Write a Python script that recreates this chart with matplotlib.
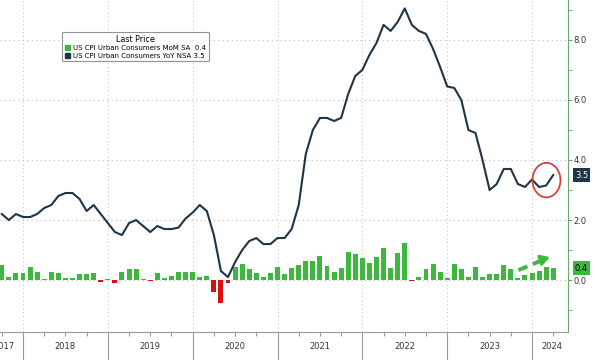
import matplotlib
matplotlib.use("Agg")
import matplotlib.pyplot as plt
import numpy as np
import pandas as pd
from matplotlib.patches import Patch, Ellipse

# monthly data, Sep 2017 .. Mar 2024
start, end = "2017-09", "2024-03"

yoy = [2.2, 2.0, 2.2, 2.1,
       2.1, 2.2, 2.4, 2.5, 2.8, 2.9, 2.9, 2.7, 2.3, 2.5, 2.2, 1.9,
       1.6, 1.5, 1.9, 2.0, 1.8, 1.6, 1.8, 1.7, 1.7, 1.75, 2.05, 2.25,
       2.5, 2.3, 1.5, 0.3, 0.1, 0.6, 1.0, 1.3, 1.4, 1.2, 1.2, 1.4,
       1.4, 1.7, 2.5, 4.2, 5.0, 5.4, 5.4, 5.3, 5.4, 6.2, 6.8, 7.0,
       7.5, 7.9, 8.5, 8.3, 8.6, 9.05, 8.5, 8.3, 8.2, 7.7, 7.1, 6.45,
       6.4, 6.0, 5.0, 4.9, 4.0, 3.0, 3.2, 3.7, 3.7, 3.2, 3.1, 3.35,
       3.1, 3.15, 3.5]

mom = [0.5, 0.1, 0.25, 0.22,
       0.42, 0.26, 0.02, 0.26, 0.22, 0.08, 0.08, 0.19, 0.21, 0.22, -0.08, 0.04,
       -0.1, 0.28, 0.36, 0.36, 0.02, -0.02, 0.22, 0.08, 0.14, 0.28, 0.28, 0.28,
       0.11, 0.13, -0.41, -0.78, -0.1, 0.44, 0.53, 0.37, 0.24, 0.11, 0.24, 0.44,
       0.19, 0.39, 0.5, 0.64, 0.63, 0.81, 0.48, 0.28, 0.39, 0.92, 0.86, 0.72,
       0.56, 0.78, 1.06, 0.41, 0.89, 1.24, -0.02, 0.09, 0.37, 0.52, 0.28, 0.06,
       0.52, 0.38, 0.09, 0.43, 0.09, 0.21, 0.21, 0.51, 0.36, 0.08, 0.16, 0.23,
       0.31, 0.44, 0.39]

years = [2017, 2018, 2019, 2020, 2021, 2022, 2023, 2024]
yticks = [0.0, 2.0, 4.0, 6.0, 8.0]

months = pd.date_range(start, end, freq="MS")
x = months.year + months.month / 12.0

navy = "#1e3448"
green = "#3cb83c"
red = "#e00d0d"
grid_c = "#bcbcbc"

fig = plt.figure(figsize=(5.95, 3.6), dpi=100)
ax = fig.add_axes([0.0, 28 / 360, 568 / 595, 332 / 360])

xmin, xmax = 2017.729, 2024.424
ax.set_xlim(xmin, xmax)
ax.set_ylim(-1.73, 9.33)

# grid
for yv in yticks:
    ax.axhline(yv, color=grid_c, lw=0.8, ls=(0, (1, 3)), zorder=0)
for yr in years[1:]:
    ax.axvline(yr, color=grid_c, lw=0.7, ls=(0, (1, 3)), zorder=0)

bar_colors = [green if v >= 0 else red for v in mom]
ax.bar(x, mom, width=0.7 / 12, color=bar_colors, zorder=2)
ax.plot(x, yoy, color=navy, lw=1.5, zorder=3)

# annotations
ax.add_patch(Ellipse((2024.17, 3.33), 0.33, 1.15, fill=False,
                     edgecolor="#d9413f", lw=1.3, zorder=4))
ax.plot([2023.84, 2024.15], [0.33, 0.70], color=green, lw=2.8,
        ls=(0, (2.5, 1.5)), zorder=4)
ax.annotate("", xy=(2024.24, 0.79), xytext=(2024.13, 0.69),
            arrowprops=dict(arrowstyle="-|>,head_length=0.5,head_width=0.3",
                            color=green, lw=2.2), zorder=4)

# spines
for s in ["top", "left"]:
    ax.spines[s].set_visible(False)
ax.spines["right"].set_color("#6aaa6a")
ax.spines["bottom"].set_color("#9a9a9a")

# right axis
ax.yaxis.tick_right()
ax.set_yticks(yticks)
ax.set_yticklabels([f"{v:.1f}" for v in yticks])
ax.set_yticks([-1, 1, 3, 5, 7, 9], minor=True)
ax.tick_params(axis="y", which="both", direction="out", length=3,
               color="#6aaa6a", labelsize=6, labelcolor="#333333", pad=1)

# bottom axis: quarter ticks, year separators, year labels
ax.set_xticks([yr + q / 4 for yr in years for q in (1, 2, 3)
               if xmin < yr + q / 4 < xmax])
ax.set_xticklabels([])
ax.tick_params(axis="x", direction="out", length=3, color="#9a9a9a")
for yr in years[1:]:
    ax.plot([yr, yr], [0, -0.12], transform=ax.get_xaxis_transform(),
            color="#9a9a9a", lw=0.8, clip_on=False)
for yr in years:
    lo, hi = max(yr, 2017.55), min(yr + 1, xmax + 0.05)
    ax.text((lo + hi) / 2, -0.045, str(yr), transform=ax.get_xaxis_transform(),
            ha="center", va="center", fontsize=6, color="#333333")

# last value tags
ax.text(1.012, 3.5, "3.5", transform=ax.get_yaxis_transform(), fontsize=6,
        color="white", va="center", ha="left",
        bbox=dict(boxstyle="square,pad=0.25", fc=navy, ec="none"))
ax.text(1.012, 0.4, "0.4", transform=ax.get_yaxis_transform(), fontsize=6,
        color="black", va="center", ha="left",
        bbox=dict(boxstyle="square,pad=0.25", fc=green, ec="none"))

# legend
handles = [Patch(color=green), Patch(color=navy)]
labels = ["US CPI Urban Consumers MoM SA  0.4",
          "US CPI Urban Consumers YoY NSA 3.5"]
leg = ax.legend(handles, labels, title="Last Price", loc="upper left",
                bbox_to_anchor=(62 / 568, 1 - 32 / 332), fontsize=5.0,
                title_fontsize=5.8, handlelength=0.8, handleheight=0.8,
                handletextpad=0.4, borderpad=0.4, labelspacing=0.2,
                frameon=True, fancybox=True, borderaxespad=0)
leg.get_frame().set_edgecolor("#777777")
leg.get_frame().set_linewidth(0.8)

fig.savefig("out.png", dpi=100)
